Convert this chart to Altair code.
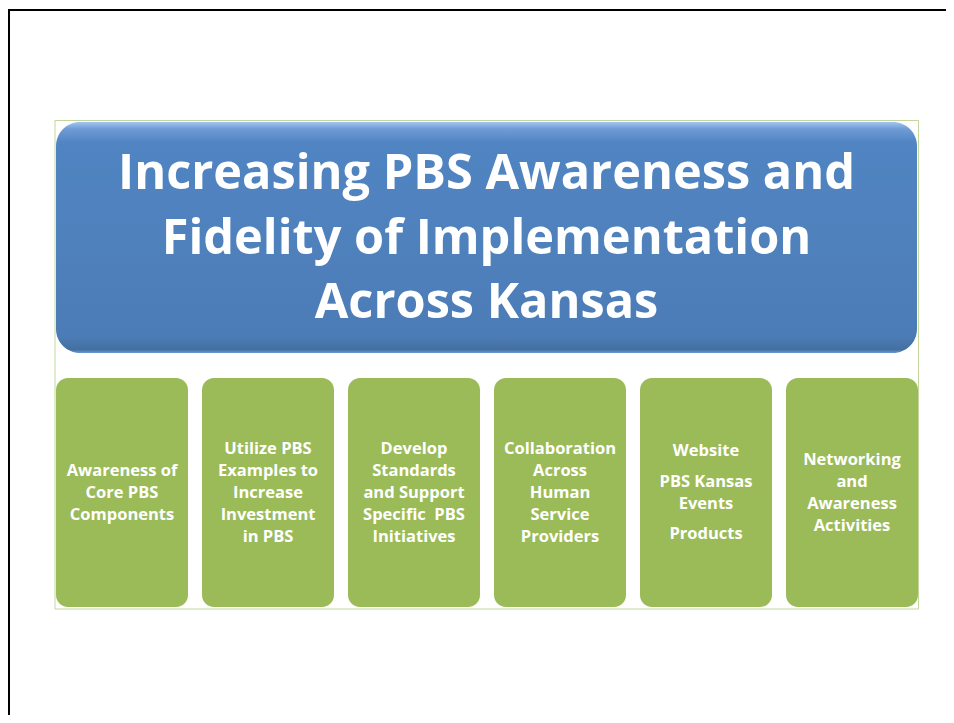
import altair as alt
import pandas as pd

# ---- content ----
title_lines = ["Increasing PBS Awareness and", "Fidelity of Implementation", "Across Kansas"]
box_labels = [
    [["Awareness of", "Core PBS", "Components"]],
    [["Utilize PBS", "Examples to", "Increase", "Investment", "in PBS"]],
    [["Develop", "Standards", "and Support", "Specific\u00a0 PBS", "Initiatives"]],
    [["Collaboration", "Across", "Human", "Service", "Providers"]],
    [["Website"], ["PBS Kansas", "Events"], ["Products"]],
    [["Networking", "and", "Awareness", "Activities"]],
]

# ---- layout (page pixel coordinates) ----
W, H = 938, 707
X0, Y0 = 8, 8
xs = alt.Scale(domain=[X0, X0 + W], nice=False, zero=False)
ys = alt.Scale(domain=[Y0, Y0 + H], reverse=True, nice=False, zero=False)

BLUE_L, BLUE_R, BLUE_T, BLUE_B = 56, 917, 122, 353
OUT_L, OUT_R, OUT_T, OUT_B = 55, 918.5, 120.5, 609
G_LEFT, G_STEP, G_W, G_T, G_B = 56, 146, 132, 378, 607
LINE_H, PARA_GAP = 22, 8.5
T_BASE, T_STEP = 189, 64.5

def X(f, **kw):
    return alt.X(f, type="quantitative", scale=xs, axis=None, **kw)

def Y(f, **kw):
    return alt.Y(f, type="quantitative", scale=ys, axis=None, **kw)

# frame lines
frame = pd.DataFrame([
    {"x": X0, "x2": X0 + W, "y": 10, "y2": 10},
    {"x": 9, "x2": 9, "y": 10, "y2": Y0 + H},
])
frame_layer = alt.Chart(frame).mark_rule(color="black", strokeWidth=2).encode(
    x=X("x"), x2="x2", y=Y("y"), y2="y2")

outline = pd.DataFrame([{"x": OUT_L, "x2": OUT_R, "y": OUT_T, "y2": OUT_B}])
outline_layer = alt.Chart(outline).mark_rect(
    fill="white", stroke="#c3d69b", strokeWidth=1).encode(
    x=X("x"), x2="x2", y=Y("y"), y2="y2")

blue = pd.DataFrame([{"x": BLUE_L, "x2": BLUE_R, "y": BLUE_T, "y2": BLUE_B}])
grad = alt.Gradient(
    gradient="linear", x1=0, y1=0, x2=0, y2=1,
    stops=[
        alt.GradientStop(offset=0.0, color="#a4c6f0"),
        alt.GradientStop(offset=0.03, color="#6f9bd6"),
        alt.GradientStop(offset=0.09, color="#5084c2"),
        alt.GradientStop(offset=0.5, color="#4f81bd"),
        alt.GradientStop(offset=0.93, color="#4c7cb6"),
        alt.GradientStop(offset=0.985, color="#44709f"),
        alt.GradientStop(offset=1.0, color="#6a98d2"),
    ],
)
blue_layer = alt.Chart(blue).mark_rect(fill=grad, cornerRadius=24).encode(
    x=X("x"), x2="x2", y=Y("y"), y2="y2")

greens = pd.DataFrame([
    {"x": G_LEFT + G_STEP * i, "x2": G_LEFT + G_STEP * i + G_W, "y": G_T, "y2": G_B}
    for i in range(len(box_labels))
])
green_layer = alt.Chart(greens).mark_rect(fill="#9bbb59", cornerRadius=12).encode(
    x=X("x"), x2="x2", y=Y("y"), y2="y2")

# title text
title_df = pd.DataFrame([
    {"t": t, "x": (BLUE_L + BLUE_R) / 2, "y": T_BASE + T_STEP * i}
    for i, t in enumerate(title_lines)
])
title_layer = alt.Chart(title_df).mark_text(
    font="Open Sans", fontWeight="bold", fontSize=48.7, color="white",
    align="center", baseline="alphabetic").encode(
    x=X("x"), y=Y("y"), text="t:N")

# box texts
rows = []
for i, paras in enumerate(box_labels):
    n = sum(len(p) for p in paras)
    total = n * LINE_H + (len(paras) - 1) * PARA_GAP
    cy = (G_T + G_B) / 2 - total / 2 + LINE_H / 2
    cx = G_LEFT + G_STEP * i + G_W / 2
    for j, p in enumerate(paras):
        if j > 0:
            cy += PARA_GAP
        for line in p:
            rows.append({"t": line, "x": cx, "y": cy})
            cy += LINE_H
box_text = pd.DataFrame(rows)
box_text_layer = alt.Chart(box_text).mark_text(
    font="Open Sans", fontWeight="bold", fontSize=16.5, color="white",
    align="center", baseline="middle").encode(
    x=X("x"), y=Y("y"), text="t:N")

chart = alt.layer(
    frame_layer, outline_layer, blue_layer, green_layer, title_layer, box_text_layer
).properties(width=W, height=H, padding=0, autosize="none").configure_view(stroke=None)

chart.save("out.html", embed_options={"renderer": "svg", "actions": False})
